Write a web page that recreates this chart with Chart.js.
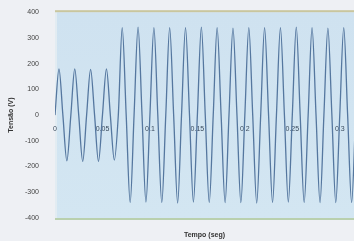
<!DOCTYPE html>
<html>
<head>
<meta charset="utf-8">
<script src="https://cdn.jsdelivr.net/npm/chart.js@4/dist/chart.umd.min.js"></script>
<style>
html,body{margin:0;padding:0;background:#eef0f4;}
#wrap{width:354px;height:241px;}
</style>
</head>
<body>
<div id="wrap"><canvas id="c" width="354" height="241"></canvas></div>
<script>
// Time samples (s): zero crossings and peaks
const timeValues = [0, 0.0042, 0.0083, 0.0125, 0.0167, 0.0208, 0.025, 0.0292, 0.0333, 0.0375,
  0.0417, 0.0458, 0.05, 0.0542, 0.0583, 0.0625, 0.0667, 0.0708, 0.075, 0.0792,
  0.0833, 0.0875, 0.0917, 0.0958, 0.1, 0.1042, 0.1083, 0.1125, 0.1167, 0.1208,
  0.125, 0.1292, 0.1333, 0.1375, 0.1417, 0.1458, 0.15, 0.1542, 0.1583, 0.1625,
  0.1667, 0.1708, 0.175, 0.1792, 0.1833, 0.1875, 0.1917, 0.1958, 0.2, 0.2042,
  0.2083, 0.2125, 0.2167, 0.2208, 0.225, 0.2292, 0.2333, 0.2375, 0.2417, 0.2458,
  0.25, 0.2542, 0.2583, 0.2625, 0.2667, 0.2708, 0.275, 0.2792, 0.2833, 0.2875,
  0.2917, 0.2958, 0.3, 0.3042, 0.3083, 0.3125, 0.3167];
// Voltage (V) at those samples
const voltageValues = [0, 180, 0, -178, 0, 180, 0, -180, 0, 178, 0, -180, 0, 180, 0, -175,
  0, 340, 0, -340, 0, 342, 0, -338, 0, 340, 0, -340, 0, 340,
  0, -342, 0, 340, 0, -338, 0, 342, 0, -340, 0, 340, 0, -340,
  0, 338, 0, -340, 0, 340, 0, -342, 0, 340, 0, -340, 0, 340,
  0, -338, 0, 342, 0, -340, 0, 340, 0, -340, 0, 338, 0, -340,
  0, 340, 0, -340, 0];
const xTickLabels = ['0', '0.05', '0.1', '0.15', '0.2', '0.25', '0.3'];
const xTickValues = [0, 0.05, 0.1, 0.15, 0.2, 0.25, 0.3];
const yTickValues = [-400, -300, -200, -100, 0, 100, 200, 300, 400];
const yTitle = 'Tensão (V)';
const xTitle = 'Tempo (seg)';

const points = timeValues.map((t, i) => ({x: t, y: voltageValues[i]}));

const plotBg = {
  id: 'plotBg',
  beforeDraw(chart) {
    const {ctx, chartArea: a} = chart;
    ctx.save();
    const g = ctx.createLinearGradient(0, a.top, 0, a.bottom);
    g.addColorStop(0, '#cfe2f0');
    g.addColorStop(1, '#d3e6f2');
    ctx.fillStyle = g;
    ctx.fillRect(a.left, a.top, a.right - a.left, a.bottom - a.top);
    ctx.fillStyle = '#e2ecf2';
    ctx.fillRect(a.left, a.top, 2, a.bottom - a.top);
    ctx.fillStyle = '#c9c69e';
    ctx.fillRect(a.left, a.top - 2, a.right - a.left, 2);
    ctx.fillStyle = '#b9d0ae';
    ctx.fillRect(a.left, a.bottom, a.right - a.left, 2);
    ctx.restore();
  }
};

new Chart(document.getElementById('c'), {
  type: 'line',
  data: {
    datasets: [{
      data: points,
      borderColor: '#55779f',
      borderWidth: 1.3,
      pointRadius: 0,
      cubicInterpolationMode: 'monotone',
      fill: false
    }]
  },
  options: {
    responsive: false,
    animation: false,
    events: [],
    layout: {padding: {top: 10, right: 0, left: 0, bottom: 0}},
    plugins: {legend: {display: false}, tooltip: {enabled: false}},
    scales: {
      x: {
        type: 'linear',
        min: 0, max: 0.315,
        position: {y: 0},
        z: 1,
        grid: {display: false},
        border: {display: false},
        afterBuildTicks(scale) { scale.ticks = xTickValues.map(v => ({value: v})); },
        ticks: {
          padding: 2,
          color: '#3a4b5e',
          font: {family: 'Liberation Sans', size: 7},
          maxRotation: 0,
          autoSkip: false,
          callback: (v, i) => xTickLabels[i]
        }
      },
      xb: {
        type: 'linear',
        min: 0, max: 0.315,
        position: 'bottom',
        grid: {display: false},
        border: {display: false},
        ticks: {display: false},
        title: {display: true, text: xTitle, color: '#333', padding: {top: 0, bottom: 2},
          font: {family: 'Liberation Sans', size: 7, weight: 'bold'}},
        afterFit(scale) { scale.height = 23; }
      },
      y: {
        min: -400, max: 400,
        grid: {display: false},
        border: {display: false},
        afterBuildTicks(scale) { scale.ticks = yTickValues.map(v => ({value: v})); },
        ticks: {
          padding: 8,
          color: '#444',
          font: {family: 'Liberation Sans', size: 7},
          callback: v => String(v)
        },
        title: {display: true, text: yTitle, color: '#333', padding: {top: 7, bottom: 0},
          font: {family: 'Liberation Sans', size: 7, weight: 'bold'}},
        afterFit(scale) { scale.width = 55; }
      }
    }
  },
  plugins: [plotBg]
});
</script>
</body>
</html>
